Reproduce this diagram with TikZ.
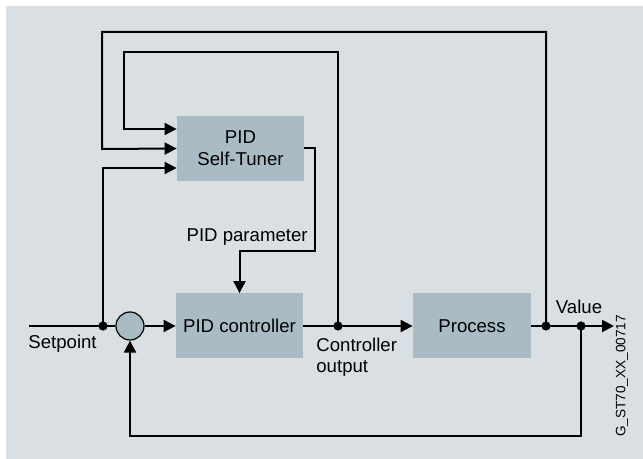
\documentclass[tikz,border=0pt]{standalone}
\usepackage{fontspec}
\setmainfont{Liberation Sans}
\usetikzlibrary{arrows.meta,calc}

\definecolor{bggray}{RGB}{218,223,227}
\definecolor{boxblue}{RGB}{169,188,198}

\tikzset{
  ln/.style={line width=1pt},
  arr/.style={ln,-{Triangle[length=6pt,width=6pt]}},
  blk/.style={fill=boxblue,draw=none,minimum height=32.5pt,align=center,
    font=\fontsize{9.3}{11}\selectfont},
  sumpt/.style={circle,fill=boxblue,draw=black,line width=0.6pt,minimum size=14pt,inner sep=0pt},
  lbl/.style={font=\fontsize{9.3}{10.5}\selectfont,inner sep=0pt}
}

\begin{document}
\begin{tikzpicture}[x=0.5pt,y=-0.5pt]
        \useasboundingbox (0,0) rectangle (643,459);
        \fill [bggray] (6,6) rectangle (643,459);
        % blocks
        \node [blk,minimum width=63.5pt] (tuner) at (240.5,148.5) {PID\\Self-Tuner};
        \node [blk,minimum width=63.5pt] (ctrl) at (239.5,326) {PID controller};
        \node [blk,minimum width=59pt] (proc) at (472,326) {Process};
        \node [sumpt] (sum) at (130,326) {};
        % junctions
        \coordinate (sp) at (29,326);
        \coordinate (jsp) at (103,326);
        \coordinate (jout) at (338,326);
        \coordinate (jval) at (546,326);
        \coordinate (jfb) at (581,326);
        \coordinate (vend) at (614,326);
        % main path
        \draw [ln] (sp) -- (sum.west);
        \draw [arr] (sum.east) -- (ctrl.west);
        \draw [ln] (ctrl.east) -- (jout);
        \draw [arr] (jout) -- (proc.west);
        \draw [arr] (proc.east) -- (vend);
        % feedback
        \draw [arr] (jfb) -- (581,436) -| (sum.south);
        % tuner inputs
        \draw [arr] (jsp) |- ($(tuner.west)+(0,19.5)$);
        \draw [arr] (jval) -- (546,32) -| (102,149) -- (tuner.west);
        \draw [arr] (jout) -- (338,52) -| (124,129) -- ($(tuner.west)+(0,-19.5)$);
        % tuner output
        \draw [arr] (tuner.east) -| (315,251) -| (ctrl.north);
        % dots
        \foreach \p in {jsp,jout,jval,jfb}
          \fill (\p) circle [radius=2.3pt];
        % labels
        \node [lbl,anchor=east] (par) at (308,237) {PID parameter};
        \node [lbl,anchor=west] (setp) at (28,344) {Setpoint};
        \node [lbl,anchor=west,align=left] (cout) at (316,357) {Controller\\output};
        \node [lbl] (val) at (579,307) {Value};
        \node [lbl,rotate=90,font=\fontsize{6.8}{8}\selectfont] (tag) at (622,376) {G\_ST70\_XX\_00717};
\end{tikzpicture}
\end{document}
